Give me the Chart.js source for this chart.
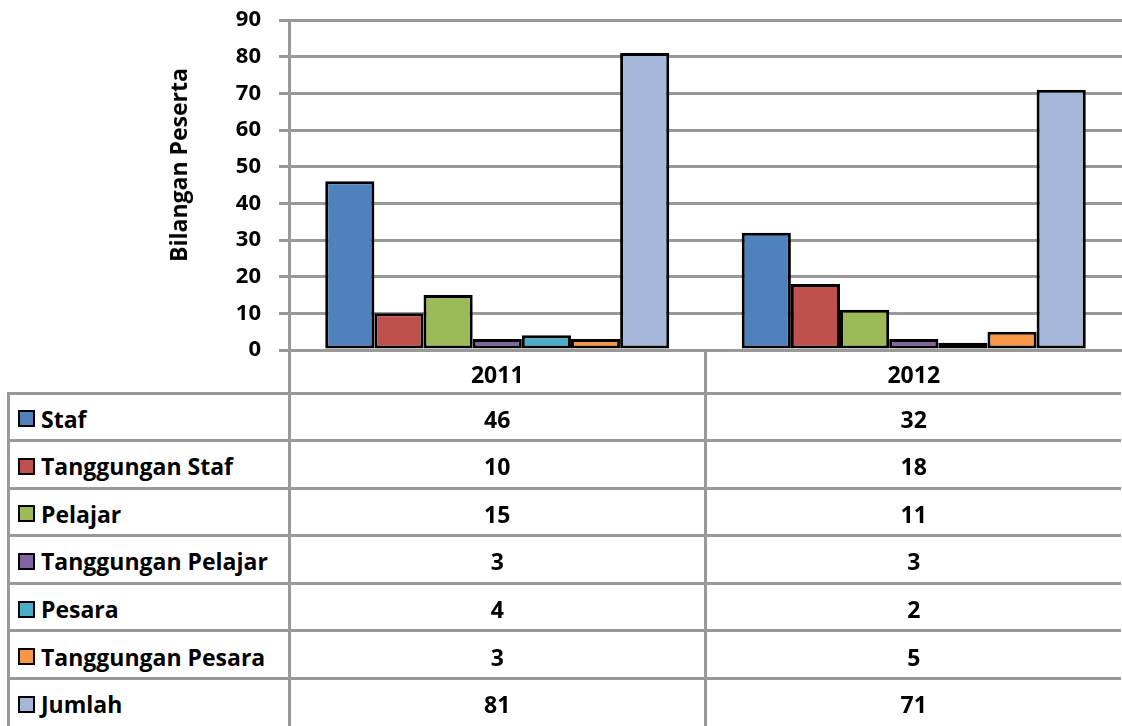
<!DOCTYPE html>
<html lang="ms">
<head>
    <meta charset="UTF-8">
    <title>Bilangan Peserta</title>
    <script src="https://cdn.jsdelivr.net/npm/chart.js"></script>
    <style>
        body {
            margin: 0;
            background: #fff;
            font-family: "Open Sans", "Noto Sans", sans-serif;
        }
        #wrap {
            position: relative;
            width: 1122px;
            height: 726px;
            overflow: hidden;
        }
        #chartBox {
            position: absolute;
            left: 0;
            top: 0;
        }
        /* y axis title, Excel puts it a bit above the middle */
        #yTitle {
            position: absolute;
            left: 178px;
            top: 165px;
            transform: translate(-50%, -50%) rotate(-90deg);
            font-weight: 700;
            font-size: 23px;
            white-space: nowrap;
            color: #000;
        }
        /* data table under the chart, placed from the chart's x scale */
        .line {
            position: absolute;
            background: #999;
        }
        .cell {
            position: absolute;
            font-weight: 700;
            font-size: 23px;
            color: #000;
            display: flex;
            align-items: center;
            white-space: nowrap;
        }
        .cell.num {
            justify-content: center;
        }
        .key {
            width: 17px;
            height: 17px;
            box-sizing: border-box;
            border: 2.5px solid #000;
            margin-left: 10px;
            margin-right: 6px;
            flex: none;
        }
    </style>
</head>
<body>
<div id="wrap">
    <canvas id="chartBox" width="1122" height="395"></canvas>
    <div id="yTitle">Bilangan Peserta</div>
    <div id="table"></div>
</div>

<script>
// data
const years = ['2011', '2012'];
const seriesNames = ['Staf', 'Tanggungan Staf', 'Pelajar', 'Tanggungan Pelajar', 'Pesara', 'Tanggungan Pesara', 'Jumlah'];
const staf = [46, 32];
const tanggunganStaf = [10, 18];
const pelajar = [15, 11];
const tanggunganPelajar = [3, 3];
const pesara = [4, 2];
const tanggunganPesara = [3, 5];
const jumlah = [81, 71];
const seriesValues = [staf, tanggunganStaf, pelajar, tanggunganPelajar, pesara, tanggunganPesara, jumlah];
const colours = ['#4F81BD', '#C0504D', '#9BBB59', '#8064A2', '#4BACC6', '#F79646', '#A5B8DA'];

const fontFamily = '"Open Sans", "Noto Sans", sans-serif';
const gridGrey = '#999';

const ctx = document.getElementById('chartBox').getContext('2d');
const chart = new Chart(ctx, {
    type: 'bar',
    data: {
        labels: years,
        datasets: seriesNames.map((name, i) => ({
            label: name,
            data: seriesValues[i],
            backgroundColor: colours[i],
            borderColor: '#000',
            borderWidth: 3,
            borderSkipped: false,
            categoryPercentage: 0.826,
            barPercentage: 1
        }))
    },
    options: {
        responsive: false,
        animation: false,
        layout: {
            padding: { top: 20, right: 0, bottom: 45, left: 0 }
        },
        plugins: {
            legend: { display: false },
            tooltip: { enabled: false }
        },
        scales: {
            x: {
                display: false
            },
            y: {
                min: 0,
                max: 90,
                ticks: {
                    stepSize: 10,
                    color: '#000',
                    padding: 18,
                    font: { family: fontFamily, size: 22, weight: 'bold' }
                },
                grid: {
                    color: gridGrey,
                    lineWidth: 3,
                    tickLength: 10
                },
                border: { color: gridGrey, width: 3 },
                afterFit: (scale) => {
                    // fixed axis width, and no extra room for the tick labels
                    scale.width = 289;
                    scale.paddingTop = 0;
                    scale.paddingBottom = 0;
                }
            }
        }
    }
});

// build the data table from the same arrays, aligned to the chart's scales
function buildTable() {
    const box = document.getElementById('table');
    const area = chart.chartArea;
    const xs = chart.scales.x;
    const left = 8;
    const headTop = area.bottom;
    const bodyTop = 393;
    const rowH = (726 - bodyTop) / seriesNames.length;
    const colEdges = [area.left];
    years.forEach((y, i) => {
        colEdges.push(i < years.length - 1
            ? (xs.getPixelForValue(i) + xs.getPixelForValue(i + 1)) / 2
            : area.right);
    });

    function line(x, y, w, h) {
        const d = document.createElement('div');
        d.className = 'line';
        d.style.left = x + 'px';
        d.style.top = y + 'px';
        d.style.width = w + 'px';
        d.style.height = h + 'px';
        box.appendChild(d);
    }
    function cell(x, y, w, h, cls) {
        const d = document.createElement('div');
        d.className = 'cell ' + cls;
        d.style.left = x + 'px';
        d.style.top = (y + 2) + 'px';
        d.style.width = w + 'px';
        d.style.height = h + 'px';
        box.appendChild(d);
        return d;
    }

    // header row with the years
    years.forEach((y, i) => {
        const c = cell(colEdges[i], headTop, colEdges[i + 1] - colEdges[i], bodyTop - headTop, 'num');
        c.textContent = y;
    });

    // one row per series
    seriesNames.forEach((name, r) => {
        const top = bodyTop + r * rowH;
        const lab = cell(left, top, colEdges[0] - left, rowH, '');
        const key = document.createElement('span');
        key.className = 'key';
        key.style.background = colours[r];
        lab.appendChild(key);
        lab.appendChild(document.createTextNode(name));
        seriesValues[r].forEach((v, i) => {
            const c = cell(colEdges[i], top, colEdges[i + 1] - colEdges[i], rowH, 'num');
            c.textContent = v;
        });
        line(left - 1.5, top - 1.5, 1122 - left, 3);
    });

    // vertical rules
    line(left - 1.5, bodyTop - 1.5, 3, 726 - bodyTop + 2);
    colEdges.slice(0, -1).forEach(x => {
        line(x - 1.5, headTop, 3, 726 - headTop);
    });
}
buildTable();
</script>
</body>
</html>
